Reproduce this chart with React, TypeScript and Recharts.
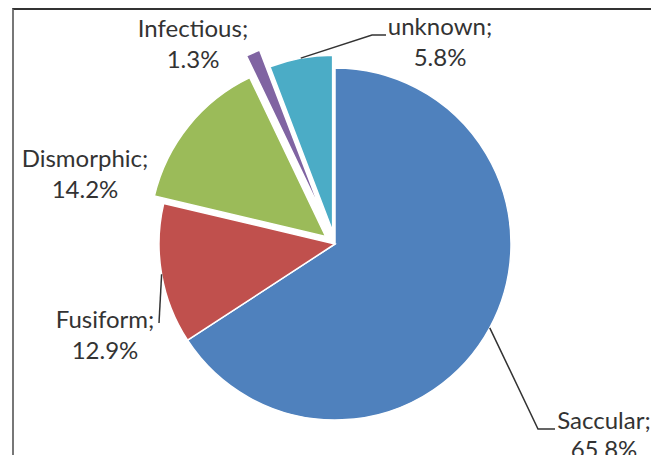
import React from 'react';
import { PieChart, Pie, Cell, Sector } from 'recharts';

// ---- data ----
const categories = ['Saccular', 'Fusiform', 'Dismorphic', 'Infectious', 'unknown'];
const shares = [65.8, 12.9, 14.2, 1.3, 5.8];
const percentLabels = ['65.8%', '12.9%', '14.2%', '1.3%', '5.8%'];

// ---- styles / layout ----
const colors = ['#4F81BD', '#C0504D', '#9BBB59', '#8064A2', '#4BACC6'];
const explodeOffsets = [0, 0, 12, 32, 13];
// label text centre x / first baseline y, relative to pie centre
const labelOffsets = [
  { dx: 269, dy: 185 },
  { dx: -230, dy: 84 },
  { dx: -250, dy: -77 },
  { dx: -142, dy: -207 },
  { dx: 105, dy: -209 },
];
// leader line points after the slice edge (relative to pie centre), null = none
const leaderPoints: (number[][] | null)[] = [
  [[203, 185], [220, 185]],
  [[-176, 79]],
  null,
  null,
  [[37, -209], [51, -209]],
];

const CX = 335;
const CY = 244;
const R = 176;
const RAD = Math.PI / 180;
const LINE_GAP = 31;
const TEXT_COLOR = '#333333';

const data = categories.map((name, i) => ({ name, value: shares[i], pct: percentLabels[i], idx: i }));

const shift = (midAngle: number, d: number) => ({
  dx: d * Math.cos(-midAngle * RAD),
  dy: d * Math.sin(-midAngle * RAD),
});

const ExplodedSector = (props: any) => {
  const idx = props.payload?.idx ?? props.index ?? 0;
  const { dx, dy } = shift(props.midAngle, explodeOffsets[idx] || 0);
  return (
    <Sector
      cx={props.cx + dx}
      cy={props.cy + dy}
      innerRadius={props.innerRadius}
      outerRadius={props.outerRadius}
      startAngle={props.startAngle}
      endAngle={props.endAngle}
      fill={props.fill}
      stroke="#ffffff"
      strokeWidth={1.5}
    />
  );
};

const renderLabel = (props: any) => {
  const idx = props.payload?.idx ?? props.index ?? 0;
  const { cx, cy, midAngle, outerRadius } = props;
  const { dx, dy } = shift(midAngle, explodeOffsets[idx] || 0);
  const ex = cx + dx + outerRadius * Math.cos(-midAngle * RAD);
  const ey = cy + dy + outerRadius * Math.sin(-midAngle * RAD);
  const pts = leaderPoints[idx];
  const tx = cx + labelOffsets[idx].dx;
  const ty = cy + labelOffsets[idx].dy;
  return (
    <g key={`lbl-${idx}`}>
      {pts && (
        <polyline
          points={[[ex, ey], ...pts.map(([px, py]) => [cx + px, cy + py])].map((p) => p.join(',')).join(' ')}
          fill="none"
          stroke="#333333"
          strokeWidth={1.5}
        />
      )}
      <text
        x={tx}
        y={ty}
        textAnchor="middle"
        fill={TEXT_COLOR}
        style={{ fontFamily: 'Lato, "Open Sans", sans-serif', fontSize: 24 }}
      >
        <tspan x={tx} y={ty}>{categories[idx]};</tspan>
        <tspan x={tx} y={ty + (idx === 0 ? 29 : LINE_GAP)}>{percentLabels[idx]}</tspan>
      </text>
    </g>
  );
};

export default function App() {
  return (
    <div style={{ position: 'relative', width: 659, height: 463, margin: -8, background: '#fff', overflow: 'hidden' }}>
      <div
        style={{
          position: 'absolute',
          left: 12,
          top: 8,
          width: 642,
          height: 470,
          borderTop: '2px solid #333',
          borderLeft: '2px solid #777',
          borderRight: '2px solid #888',
        }}
      />
      <div style={{ position: 'absolute', left: 0, top: 0 }}>
        <PieChart width={659} height={463} margin={{ top: 0, right: 0, bottom: 0, left: 0 }}>
          <Pie
            data={data}
            dataKey="value"
            nameKey="name"
            cx={CX}
            cy={CY}
            outerRadius={R}
            startAngle={90}
            endAngle={-270}
            stroke="#ffffff"
            strokeWidth={1.5}
            isAnimationActive={false}
            labelLine={false}
            label={renderLabel}
            shape={ExplodedSector}
            activeShape={ExplodedSector}
            inactiveShape={ExplodedSector}
          >
            {data.map((d, i) => (
              <Cell key={d.name} fill={colors[i]} />
            ))}
          </Pie>
        </PieChart>
      </div>
    </div>
  );
}
